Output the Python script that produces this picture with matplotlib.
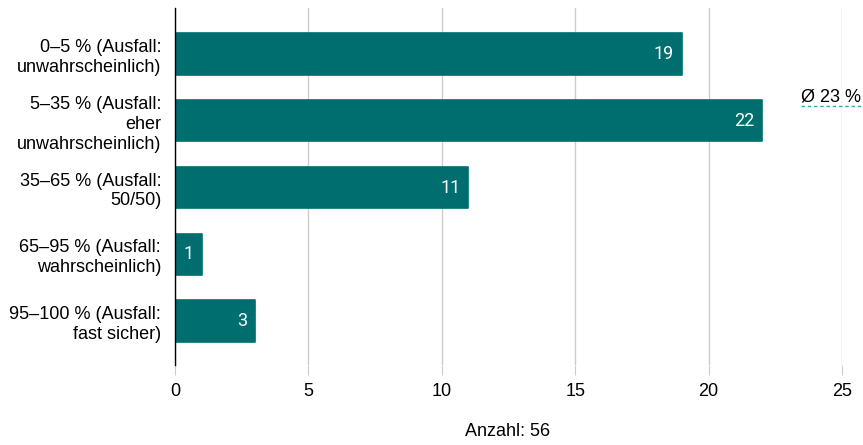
import matplotlib.pyplot as plt
import numpy as np

categories = [
    "0–5 % (Ausfall:\nunwahrscheinlich)",
    "5–35 % (Ausfall:\neher\nunwahrscheinlich)",
    "35–65 % (Ausfall:\n50/50)",
    "65–95 % (Ausfall:\nwahrscheinlich)",
    "95–100 % (Ausfall:\nfast sicher)",
]
counts = [19, 22, 11, 1, 3]
x_ticks = [0, 5, 10, 15, 20, 25]
avg_label = "Ø 23 %"
total_label = "Anzahl: 56"

plt.rcParams['font.family'] = ['Liberation Sans', 'DejaVu Sans']
teal = "#006d6f"

fig = plt.figure(figsize=(8.63, 4.45), dpi=100)
ax = fig.add_axes([175 / 863, 1 - 365 / 445, (842 - 175) / 863, (365 - 8) / 445])

y = np.arange(len(categories))
ax.barh(y, counts, height=0.62, color=teal, edgecolor=teal, linewidth=1.2,
        joinstyle='round', zorder=3)
for yi, c in zip(y, counts):
    ax.text(c - 0.3, yi, str(c), ha='right', va='center', color='white',
            fontsize=13, family='Roboto', zorder=4)

ax.set_xlim(0, 25)
ax.set_ylim(4.66, -0.69)
ax.set_xticks(x_ticks)
ax.set_xticklabels([str(t) for t in x_ticks], fontsize=13)
ax.set_yticks(y)
ax.set_yticklabels(categories, fontsize=13, linespacing=1.22)
ax.tick_params(axis='y', length=0, pad=10)
ax.tick_params(axis='x', length=7, color='#cccccc', pad=6)
ax.grid(axis='x', color='#cccccc', linewidth=1, zorder=0)
for s in ['top', 'right', 'bottom']:
    ax.spines[s].set_visible(False)
ax.spines['left'].set_color('black')
ax.spines['left'].set_linewidth(1)
ax.spines['left'].set_zorder(5)

fig.text(831 / 863, 1 - 97 / 445, avg_label, ha='center', va='center', fontsize=13)
fig.add_artist(plt.Line2D([801 / 863, 861 / 863], [1 - 106 / 445, 1 - 106 / 445],
                          color='#3aa6a6', linestyle=(0, (2.5, 2)), linewidth=1))
fig.text(508 / 863, 1 - 432 / 445, total_label, ha='center', va='center', fontsize=13)

fig.savefig("out.png", dpi=100)
